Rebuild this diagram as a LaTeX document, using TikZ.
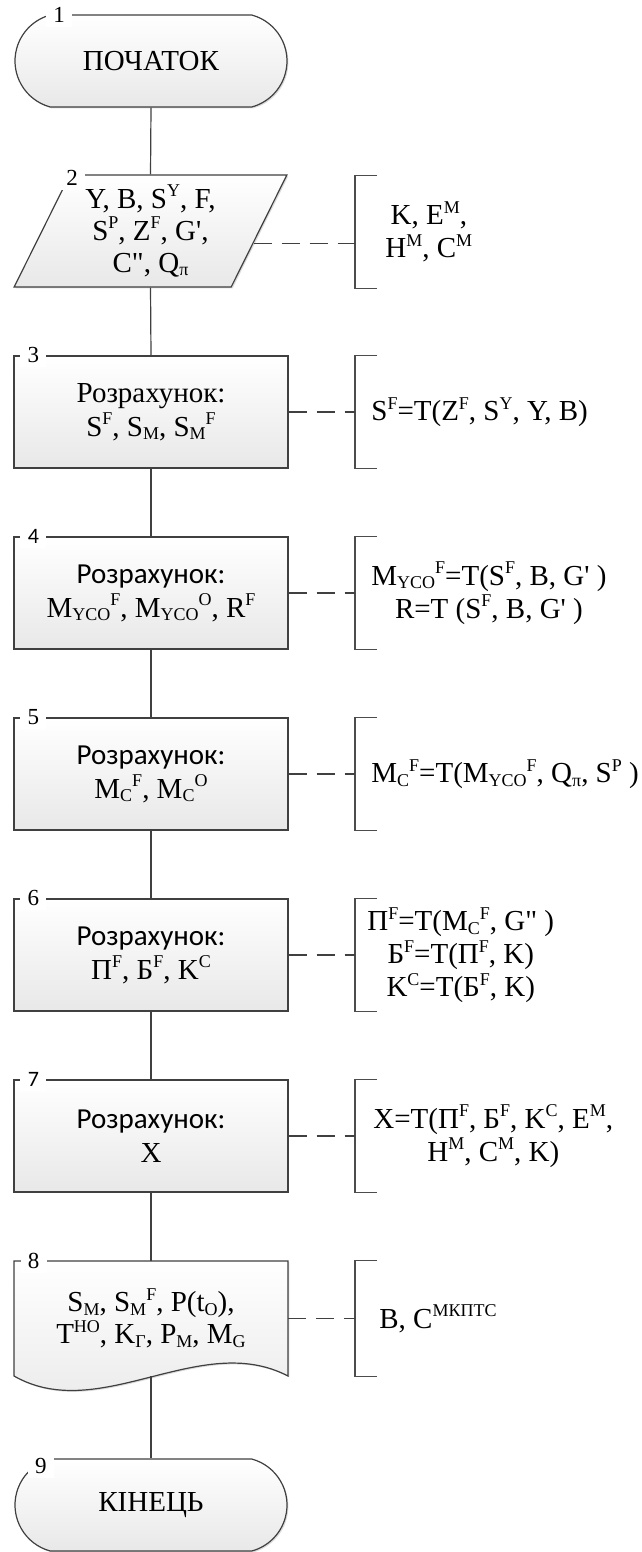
\documentclass[tikz,border=0pt]{standalone}
\usepackage{fontspec}
\setmainfont{Liberation Serif}
\newfontfamily\calib{Carlito}
\usetikzlibrary{shapes.geometric, shapes.misc, shadows, calc, positioning}

\newcommand{\ssup}[1]{\raisebox{5.8pt}{\fontsize{9}{9}\selectfont #1}}
\newcommand{\ssub}[1]{\raisebox{-1.8pt}{\fontsize{9}{9}\selectfont #1}}

\tikzset{
  base/.style={draw=black!75, line width=0.6pt, top color=white, bottom color=black!9,
    drop shadow={shadow xshift=0.7pt, shadow yshift=-0.7pt, opacity=0.35, fill=black!40},
    font=\fontsize{14.5}{17}\selectfont, align=center, inner sep=0pt},
  term/.style={base, rounded rectangle, rounded rectangle arc length=150, minimum width=136pt, minimum height=46pt},
  io/.style={base, trapezium, trapezium left angle=64, trapezium right angle=116, trapezium stretches=true,
    minimum width=136.5pt, minimum height=56pt, font=\fontsize{14.5}{16}\selectfont},
  proc/.style={base, rectangle, minimum width=137pt, minimum height=56pt},
  docbody/.style={rectangle, minimum width=137pt, minimum height=57.5pt, inner sep=0pt, align=center,
    font=\fontsize{14.5}{16}\selectfont},
  docshape/.style={draw=black!75, line width=0.6pt, top color=white, bottom color=black!9,
    drop shadow={shadow xshift=0.7pt, shadow yshift=-0.7pt, opacity=0.35, fill=black!40}},
  num/.style={fill=white, inner sep=0pt, minimum width=13pt, minimum height=12pt, font=\fontsize{11.5}{12}\selectfont},
  numsf/.style={num, font=\calib\fontsize{11}{12}\selectfont},
  note/.style={anchor=west, minimum height=56pt, inner xsep=8pt, inner ysep=0pt, align=center,
    font=\fontsize{14.5}{16.5}\selectfont},
  bracket/.style={draw=black!70, line width=0.6pt},
  link/.style={draw=black!75, line width=0.6pt},
  notelink/.style={link, dash pattern=on 9pt off 5pt}
}

\begin{document}
\begin{tikzpicture}[x=0.5pt, y=-0.5pt]
\useasboundingbox (0,0) rectangle (642,1552);

% flowchart blocks
\node[term] (n1) at (151,61) {ПОЧАТОК};
\node[io] (n2) at (150.5,231) {Y, B, S\ssup{Y}, F,\\ S\ssup{P}, Z\ssup{F}, G\textquotesingle,\\ C\textquotedbl, Q\ssub{π}};
\node[proc] (n3) at (151,412) {Розрахунок:\\ S\ssup{F}, S\ssub{M}, S\ssub{M}\ssup{F}};
\node[proc] (n4) at (151,593) {{\calib Розрахунок:}\\ M\ssub{YCO}\ssup{F}, M\ssub{YCO}\ssup{O}, R\ssup{F}};
\node[proc] (n5) at (151,774) {{\calib Розрахунок:}\\ M\ssub{C}\ssup{F}, M\ssub{C}\ssup{O}};
\node[proc] (n6) at (151,955) {{\calib Розрахунок:}\\ П\ssup{F}, Б\ssup{F}, K\ssup{C}};
\node[proc] (n7) at (151,1136) {{\calib Розрахунок:}\\ X};
\path[docshape] (14,1261) -- (288,1261) -- (288,1376) .. controls (200,1330) and (100,1425) .. (14,1376) -- cycle;
\node[docbody] (n8) at (151,1318.5) {S\ssub{M}, S\ssub{M}\ssup{F}, P(t\ssub{O}),\\ T\ssup{HO}, K\ssub{Г}, P\ssub{M}, M\ssub{G}};
\node[term] (n9) at (151,1505) {КІНЕЦЬ};

% block numbers
\node[num] (l1) at (59,15) {1};
\node[num] (l2) at (72,178) {2};
\node[num] (l3) at ([xshift=10pt]n3.north west) {3};
\node[numsf] (l4) at ([xshift=10pt]n4.north west) {4};
\node[num] (l5) at ([xshift=10pt]n5.north west) {5};
\node[num] (l6) at ([xshift=10pt]n6.north west) {6};
\node[numsf] (l7) at ([xshift=10pt]n7.north west) {7};
\node[num] (l8) at ([xshift=10pt]n8.north west) {8};
\node[num] (l9) at (41,1466) {9};

% comments
\node[note, inner xsep=15pt] (c2) at (355,232) {K, E\ssup{M},\\ H\ssup{M}, C\ssup{M}};
\node[note] (c3) at (355,412) {S\ssup{F}=T(Z\ssup{F}, S\ssup{Y}, Y, B)};
\node[note] (c4) at (355,593) {M\ssub{YCO}\ssup{F}=T(S\ssup{F}, B, G\textquotesingle{} )\\ R=T (S\ssup{F}, B, G\textquotesingle{} )};
\node[note] (c5) at (355,774) {M\ssub{C}\ssup{F}=T(M\ssub{YCO}\ssup{F}, Q\ssub{π}, S\ssup{P} )};
\node[note, inner xsep=6pt] (c6) at (355,955) {П\ssup{F}=T(M\ssub{C}\ssup{F}, G\textquotedbl{} )\\ Б\ssup{F}=T(П\ssup{F}, K)\\ K\ssup{C}=T(Б\ssup{F}, K)};
\node[note, inner xsep=9pt] (c7) at (355,1136) {X=T(П\ssup{F}, Б\ssup{F}, K\ssup{C}, E\ssup{M},\\ H\ssup{M}, C\ssup{M}, K)};
\node[note, inner xsep=12pt, minimum height=57.5pt] (c8) at (355,1318.5) {B, C\ssup{МКПТС}};

\foreach \c in {c2,c3,c4,c5,c6,c7,c8}
  \draw[bracket] ([xshift=11pt]\c.north west) -- (\c.north west) -- (\c.south west) -- ([xshift=11pt]\c.south west);

% connectors
\draw[link] (n1.south) -- (n2.north);
\draw[link] (n2.south) -- (n3.north);
\draw[link] (n3.south) -- (n4.north);
\draw[link] (n4.south) -- (n5.north);
\draw[link] (n5.south) -- (n6.north);
\draw[link] (n6.south) -- (n7.north);
\draw[link] (n7.south) -- (n8.north);
\draw[link] (n8.south) -- (n9.north);

\coordinate (p2) at ($(n2.bottom right corner)!0.39!(n2.top right corner)$);
\draw[notelink] (p2) -- (p2 -| c2.west);
\draw[notelink] (n3.east) -- (c3.west);
\draw[notelink] (n4.east) -- (c4.west);
\draw[notelink] (n5.east) -- (c5.west);
\draw[notelink] (n6.east) -- (c6.west);
\draw[notelink] (n7.east) -- (c7.west);
\draw[notelink] (n8.east) -- (c8.west);
\end{tikzpicture}
\end{document}
